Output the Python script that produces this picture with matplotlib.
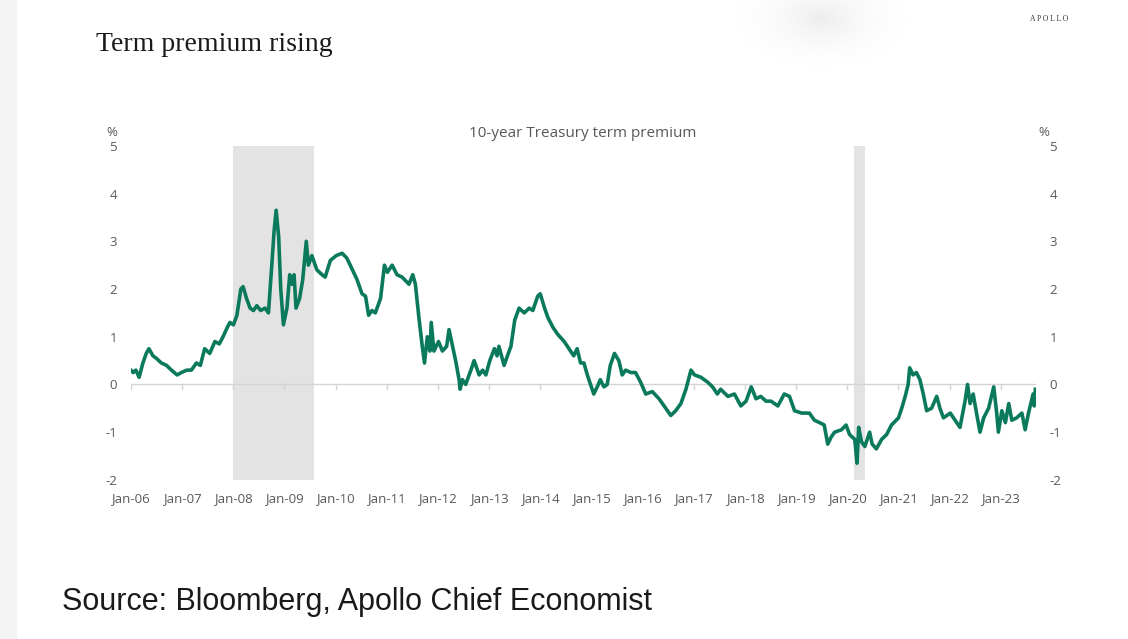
import numpy as np
import pandas as pd
import matplotlib
matplotlib.use("Agg")
import matplotlib.pyplot as plt

# 10-year Treasury term premium, %
dates = [
    "2006-01-01", "2006-01-17", "2006-02-06", "2006-03-01", "2006-03-28", "2006-04-21",
    "2006-05-10", "2006-06-08", "2006-07-01", "2006-08-07", "2006-09-12", "2006-10-18",
    "2006-11-27", "2006-12-28", "2007-02-03", "2007-03-09", "2007-04-14", "2007-05-12",
    "2007-06-12", "2007-07-18", "2007-08-24", "2007-09-24", "2007-10-21", "2007-11-21",
    "2007-12-09", "2008-01-03", "2008-01-28", "2008-02-25", "2008-03-12", "2008-04-06",
    "2008-05-01", "2008-05-25", "2008-06-18", "2008-07-16", "2008-08-16", "2008-09-09",
    "2008-10-03", "2008-10-19", "2008-11-03", "2008-11-21", "2008-12-06", "2008-12-25",
    "2009-01-19", "2009-02-08", "2009-02-25", "2009-03-11", "2009-03-25", "2009-04-19",
    "2009-05-12", "2009-06-06", "2009-06-21", "2009-07-16", "2009-08-21", "2009-09-27",
    "2009-10-19", "2009-11-25", "2010-01-06", "2010-02-17", "2010-03-22", "2010-04-16",
    "2010-06-03", "2010-07-09", "2010-08-03", "2010-08-25", "2010-09-18", "2010-10-12",
    "2010-11-18", "2010-12-16", "2011-01-06", "2011-02-09", "2011-03-16", "2011-04-21",
    "2011-06-09", "2011-07-06", "2011-07-25", "2011-08-19", "2011-09-12", "2011-09-28",
    "2011-10-18", "2011-11-06", "2011-11-15", "2011-12-04", "2012-01-06", "2012-02-03",
    "2012-03-04", "2012-03-21", "2012-04-15", "2012-05-07", "2012-06-01", "2012-06-08",
    "2012-06-25", "2012-07-18", "2012-08-24", "2012-09-16", "2012-10-22", "2012-11-16",
    "2012-12-09", "2013-01-06", "2013-02-08", "2013-02-27", "2013-03-12", "2013-04-18",
    "2013-05-12", "2013-06-06", "2013-07-03", "2013-08-03", "2013-09-09", "2013-10-15",
    "2013-11-09", "2013-12-14", "2014-01-01", "2014-02-01", "2014-02-25", "2014-04-01",
    "2014-05-06", "2014-06-21", "2014-08-28", "2014-09-21", "2014-10-16", "2014-11-09",
    "2014-12-03", "2015-01-18", "2015-02-12", "2015-03-06", "2015-04-01", "2015-04-24",
    "2015-05-16", "2015-06-15", "2015-07-16", "2015-08-09", "2015-09-03", "2015-10-09",
    "2015-11-12", "2015-12-18", "2016-01-24", "2016-03-11", "2016-04-28", "2016-06-27",
    "2016-07-21", "2016-08-25", "2016-10-01", "2016-11-06", "2016-12-12", "2017-01-06",
    "2017-02-21", "2017-04-09", "2017-05-15", "2017-06-18", "2017-07-12", "2017-09-01",
    "2017-10-18", "2017-12-03", "2018-01-09", "2018-02-15", "2018-03-21", "2018-04-24",
    "2018-06-01", "2018-07-06", "2018-08-24", "2018-10-09", "2018-11-15", "2018-12-21",
    "2019-02-09", "2019-04-06", "2019-05-12", "2019-06-18", "2019-07-21", "2019-08-15",
    "2019-09-09", "2019-10-03", "2019-11-21", "2019-12-24", "2020-01-18", "2020-02-24",
    "2020-03-11", "2020-03-23", "2020-04-12", "2020-05-06", "2020-06-09", "2020-06-27",
    "2020-07-27", "2020-09-03", "2020-10-08", "2020-11-12", "2021-01-01", "2021-01-24",
    "2021-02-18", "2021-03-11", "2021-03-22", "2021-04-15", "2021-05-09", "2021-06-03",
    "2021-06-27", "2021-07-21", "2021-08-25", "2021-10-01", "2021-10-24", "2021-11-18",
    "2022-01-06", "2022-02-09", "2022-03-16", "2022-04-21", "2022-05-09", "2022-05-27",
    "2022-06-18", "2022-07-12", "2022-08-06", "2022-09-01", "2022-10-06", "2022-11-12",
    "2022-12-03", "2022-12-15", "2023-01-09", "2023-02-03", "2023-02-27", "2023-03-21",
    "2023-04-24", "2023-06-01", "2023-06-24", "2023-07-18", "2023-08-20", "2023-08-28",
    "2023-09-05",
]
premium = [
    0.30, 0.25, 0.30, 0.15, 0.45, 0.65,
    0.75, 0.60, 0.55, 0.45, 0.40, 0.30,
    0.20, 0.25, 0.30, 0.30, 0.45, 0.40,
    0.75, 0.65, 0.90, 0.85, 1.00, 1.20,
    1.30, 1.25, 1.45, 2.00, 2.05, 1.80,
    1.60, 1.55, 1.65, 1.55, 1.60, 1.50,
    2.50, 3.20, 3.65, 3.10, 2.00, 1.25,
    1.60, 2.30, 2.10, 2.30, 1.60, 1.80,
    2.20, 3.00, 2.50, 2.70, 2.40, 2.30,
    2.25, 2.60, 2.70, 2.75, 2.65, 2.50,
    2.20, 1.90, 1.85, 1.45, 1.55, 1.50,
    1.80, 2.50, 2.35, 2.50, 2.30, 2.25,
    2.10, 2.30, 2.10, 1.40, 0.80, 0.45,
    1.00, 0.70, 1.30, 0.70, 0.90, 0.70,
    0.80, 1.15, 0.80, 0.50, 0.10, -0.10,
    0.10, 0.00, 0.30, 0.50, 0.20, 0.30,
    0.20, 0.50, 0.75, 0.60, 0.80, 0.40,
    0.60, 0.80, 1.35, 1.60, 1.50, 1.60,
    1.55, 1.85, 1.90, 1.60, 1.40, 1.20,
    1.05, 0.90, 0.60, 0.75, 0.45, 0.45,
    0.20, -0.20, -0.05, 0.10, -0.05, 0.00,
    0.40, 0.65, 0.50, 0.20, 0.30, 0.25,
    0.25, 0.05, -0.20, -0.15, -0.30, -0.55,
    -0.65, -0.55, -0.40, -0.10, 0.30, 0.20,
    0.15, 0.05, -0.05, -0.20, -0.10, -0.25,
    -0.20, -0.45, -0.35, -0.05, -0.30, -0.25,
    -0.35, -0.35, -0.45, -0.20, -0.25, -0.55,
    -0.60, -0.60, -0.75, -0.80, -0.85, -1.25,
    -1.10, -1.00, -0.95, -0.85, -1.05, -1.15,
    -1.65, -0.90, -1.20, -1.30, -1.00, -1.25,
    -1.35, -1.15, -1.05, -0.85, -0.70, -0.50,
    -0.25, 0.00, 0.35, 0.20, 0.25, 0.10,
    -0.20, -0.55, -0.50, -0.25, -0.50, -0.70,
    -0.60, -0.75, -0.90, -0.35, 0.00, -0.40,
    -0.20, -0.60, -1.00, -0.70, -0.50, -0.05,
    -0.60, -1.00, -0.55, -0.80, -0.40, -0.75,
    -0.70, -0.60, -0.95, -0.60, -0.20, -0.45,
    -0.10,
]

# recessions (shaded)
recession_start = ["2008-01-01", "2020-02-15"]
recession_end = ["2009-08-01", "2020-05-05"]

tick_years = list(range(2006, 2024))
y_ticks = [-2, -1, 0, 1, 2, 3, 4, 5]

line_color = "#0b7a5c"
grey_text = "#595959"

plt.rcParams['font.family'] = ['Open Sans', 'DejaVu Sans']

x = pd.to_datetime(dates)

fig = plt.figure(figsize=(11.28, 6.39), dpi=100)
fig.patch.set_facecolor("white")

# light strip on the left edge of the slide
fig.patches.append(plt.Rectangle((0, 0), 0.014, 1, transform=fig.transFigure,
                                 color="#f3f3f3", zorder=0))

# faint shadow blob at the top of the slide
blob = fig.add_axes([0.645, 0.88, 0.165, 0.12])
gx, gy = np.meshgrid(np.linspace(-1, 1, 200), np.linspace(-1, 0.3, 100))
r = np.sqrt(gx ** 2 + (gy * 1.1) ** 2)
shade = np.clip(1 - r, 0, 1) ** 1.8
rgba = np.ones((100, 200, 4)) * 0.80
rgba[..., 3] = shade * 0.35
blob.imshow(rgba, origin="lower", aspect="auto", interpolation="bilinear")
blob.axis("off")

ax = fig.add_axes([0.116, 0.249, 0.802, 0.5227])

for s, e in zip(recession_start, recession_end):
    ax.axvspan(pd.Timestamp(s), pd.Timestamp(e), color="#e3e3e3", lw=0, zorder=0)

ax.axhline(0, color="#d4d4d4", lw=1, zorder=1)
ax.plot(x, premium, color=line_color, lw=2.6, zorder=3, solid_joinstyle="round")

ax.set_xlim(pd.Timestamp("2006-01-01"), pd.Timestamp("2023-09-06"))
ax.set_ylim(-2, 5)

for side in ["top", "right", "left", "bottom"]:
    ax.spines[side].set_visible(False)

# x ticks as short marks on the zero line, labels below the plot
xt = [pd.Timestamp(f"{y}-01-01") for y in tick_years]
ax.set_xticks(xt)
ax.set_xticklabels([])
ax.tick_params(axis="x", length=0)
for t, yr in zip(xt, tick_years):
    ax.plot([t, t], [0, -0.09], color="#d4d4d4", lw=1, zorder=1)
    ax.text(t, -2.25, f"Jan-{yr % 100:02d}", ha="center", va="top",
            fontsize=9.5, color=grey_text)

ax.set_yticks(y_ticks)
ax.set_yticklabels([str(v) for v in y_ticks])
ax.tick_params(axis="y", length=0, labelsize=9.5, labelcolor=grey_text,
               labelleft=True, labelright=True, pad=10)

ax.text(-0.0155, 1.022, "%", transform=ax.transAxes, ha="right", va="bottom",
        fontsize=9.5, color=grey_text)
ax.text(1.003, 1.022, "%", transform=ax.transAxes, ha="left", va="bottom",
        fontsize=9.5, color=grey_text)
ax.text(0.5, 1.015, "10-year Treasury term premium", transform=ax.transAxes,
        ha="center", va="bottom", fontsize=11, color=grey_text)

fig.text(0.085, 0.93, "Term premium rising", ha="left", va="center",
         fontsize=20, family="Liberation Serif", color="#1a1a1a")
fig.text(0.947, 0.971, "A P O L L O", ha="right", va="center",
         fontsize=5.5, family="Liberation Serif", color="#333333")
fig.text(0.055, 0.058, "Source: Bloomberg, Apollo Chief Economist", ha="left",
         va="center", fontsize=22, family="Liberation Sans", color="#1a1a1a")

fig.savefig("out.png", dpi=100)
